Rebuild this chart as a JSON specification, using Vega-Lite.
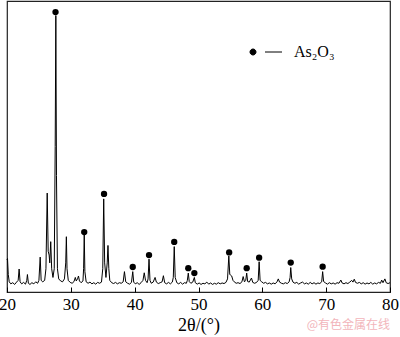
{
  "$schema": "https://vega.github.io/schema/vega-lite/v6.json",
  "width": 383,
  "height": 291,
  "autosize": {"type": "none"},
  "padding": {"left": 7, "top": 1, "right": 10, "bottom": 45},
  "background": "white",
  "title": {
    "text": "@有色金属在线",
    "orient": "bottom",
    "anchor": "end",
    "frame": "group",
    "offset": -14,
    "font": "Noto Sans CJK SC",
    "fontSize": 12,
    "fontWeight": "normal",
    "color": "#f2b5bb"
  },
  "datasets": {
    "pattern": [
      {"t": 20.0, "i": 11}, {"t": 20.08, "i": 11.5}, {"t": 20.2, "i": 6}, {"t": 20.35, "i": 3.5}, {"t": 20.6, "i": 2.8},
      {"t": 20.9, "i": 3.2}, {"t": 21.2, "i": 2.6}, {"t": 21.5, "i": 3.4}, {"t": 21.75, "i": 4}, {"t": 21.9, "i": 7.9},
      {"t": 22.05, "i": 3.5}, {"t": 22.3, "i": 2.8}, {"t": 22.6, "i": 3.3}, {"t": 22.9, "i": 2.7}, {"t": 23.1, "i": 4},
      {"t": 23.2, "i": 6}, {"t": 23.35, "i": 3}, {"t": 23.6, "i": 2.6}, {"t": 23.9, "i": 3.2}, {"t": 24.2, "i": 2.8},
      {"t": 24.5, "i": 3.5}, {"t": 24.8, "i": 3}, {"t": 25.0, "i": 4}, {"t": 25.2, "i": 12}, {"t": 25.35, "i": 4},
      {"t": 25.6, "i": 3.5}, {"t": 25.9, "i": 4}, {"t": 26.1, "i": 8}, {"t": 26.3, "i": 34}, {"t": 26.45, "i": 14},
      {"t": 26.6, "i": 12.7}, {"t": 26.7, "i": 10}, {"t": 26.85, "i": 17.3}, {"t": 27.0, "i": 8}, {"t": 27.2, "i": 5},
      {"t": 27.4, "i": 8}, {"t": 27.55, "i": 50}, {"t": 27.65, "i": 95}, {"t": 27.75, "i": 40}, {"t": 27.9, "i": 8},
      {"t": 28.1, "i": 4.5}, {"t": 28.4, "i": 3.8}, {"t": 28.7, "i": 3.5}, {"t": 29.0, "i": 4.5}, {"t": 29.2, "i": 10},
      {"t": 29.3, "i": 19}, {"t": 29.4, "i": 8}, {"t": 29.6, "i": 4}, {"t": 29.9, "i": 3.3}, {"t": 30.2, "i": 3},
      {"t": 30.5, "i": 3.6}, {"t": 30.7, "i": 5}, {"t": 30.85, "i": 3.8}, {"t": 31.05, "i": 4.5}, {"t": 31.2, "i": 5.5},
      {"t": 31.35, "i": 3.8}, {"t": 31.6, "i": 3.2}, {"t": 31.9, "i": 3.8}, {"t": 32.0, "i": 8}, {"t": 32.1, "i": 19.6},
      {"t": 32.2, "i": 7}, {"t": 32.4, "i": 3.5}, {"t": 32.7, "i": 3.0}, {"t": 33.0, "i": 3.4}, {"t": 33.3, "i": 2.8},
      {"t": 33.6, "i": 3.2}, {"t": 33.9, "i": 2.7}, {"t": 34.2, "i": 3.3}, {"t": 34.5, "i": 3.0}, {"t": 34.8, "i": 3.4},
      {"t": 35.0, "i": 8}, {"t": 35.15, "i": 32}, {"t": 35.3, "i": 10}, {"t": 35.5, "i": 5}, {"t": 35.7, "i": 10},
      {"t": 35.82, "i": 16}, {"t": 35.95, "i": 8}, {"t": 36.1, "i": 4}, {"t": 36.4, "i": 3.2}, {"t": 36.7, "i": 2.9},
      {"t": 37.0, "i": 3.3}, {"t": 37.3, "i": 2.8}, {"t": 37.6, "i": 3.2}, {"t": 37.9, "i": 3.0}, {"t": 38.2, "i": 3.5},
      {"t": 38.4, "i": 7}, {"t": 38.6, "i": 3.5}, {"t": 38.9, "i": 3.0}, {"t": 39.2, "i": 2.7}, {"t": 39.5, "i": 3.3},
      {"t": 39.7, "i": 7}, {"t": 39.85, "i": 3.4}, {"t": 40.1, "i": 2.8}, {"t": 40.4, "i": 3.2}, {"t": 40.7, "i": 2.6},
      {"t": 41.0, "i": 3.2}, {"t": 41.3, "i": 4}, {"t": 41.5, "i": 6.6}, {"t": 41.7, "i": 4}, {"t": 41.95, "i": 3.2},
      {"t": 42.1, "i": 4.5}, {"t": 42.25, "i": 11.3}, {"t": 42.4, "i": 4}, {"t": 42.6, "i": 3}, {"t": 42.9, "i": 3.4},
      {"t": 43.2, "i": 5}, {"t": 43.4, "i": 3.4}, {"t": 43.7, "i": 2.9}, {"t": 44.0, "i": 3.2}, {"t": 44.3, "i": 3.5},
      {"t": 44.5, "i": 5.6}, {"t": 44.7, "i": 3.2}, {"t": 45.0, "i": 2.8}, {"t": 45.3, "i": 3.3}, {"t": 45.6, "i": 2.8},
      {"t": 45.9, "i": 3.4}, {"t": 46.05, "i": 5}, {"t": 46.2, "i": 15.6}, {"t": 46.35, "i": 5}, {"t": 46.6, "i": 3.2},
      {"t": 46.9, "i": 2.8}, {"t": 47.2, "i": 3.3}, {"t": 47.5, "i": 2.7}, {"t": 47.8, "i": 3.2}, {"t": 48.1, "i": 3},
      {"t": 48.25, "i": 4}, {"t": 48.4, "i": 6.5}, {"t": 48.55, "i": 3.6}, {"t": 48.8, "i": 3}, {"t": 49.1, "i": 3.4},
      {"t": 49.35, "i": 5}, {"t": 49.5, "i": 3.2}, {"t": 49.8, "i": 2.7}, {"t": 50.1, "i": 3.1}, {"t": 50.4, "i": 2.6},
      {"t": 50.7, "i": 3.0}, {"t": 51.0, "i": 2.8}, {"t": 51.3, "i": 3.4}, {"t": 51.6, "i": 2.7}, {"t": 51.9, "i": 3.1},
      {"t": 52.2, "i": 2.6}, {"t": 52.5, "i": 3.0}, {"t": 52.8, "i": 2.7}, {"t": 53.1, "i": 3.2}, {"t": 53.4, "i": 2.8},
      {"t": 53.7, "i": 3.1}, {"t": 54.0, "i": 2.9}, {"t": 54.3, "i": 3.3}, {"t": 54.55, "i": 4.5}, {"t": 54.75, "i": 12.4},
      {"t": 54.9, "i": 6}, {"t": 55.05, "i": 5.8}, {"t": 55.2, "i": 5.5}, {"t": 55.4, "i": 4}, {"t": 55.6, "i": 3.5},
      {"t": 55.9, "i": 3}, {"t": 56.2, "i": 3.2}, {"t": 56.5, "i": 2.9}, {"t": 56.8, "i": 3.5}, {"t": 57.0, "i": 5.3},
      {"t": 57.2, "i": 3.5}, {"t": 57.4, "i": 4}, {"t": 57.55, "i": 6.5}, {"t": 57.7, "i": 3.6}, {"t": 57.95, "i": 3.4},
      {"t": 58.3, "i": 4.8}, {"t": 58.5, "i": 3.3}, {"t": 58.8, "i": 3.0}, {"t": 59.1, "i": 3.3}, {"t": 59.35, "i": 4},
      {"t": 59.5, "i": 10.4}, {"t": 59.65, "i": 4}, {"t": 59.9, "i": 3.5}, {"t": 60.2, "i": 3.0}, {"t": 60.5, "i": 3.3},
      {"t": 60.8, "i": 2.8}, {"t": 61.1, "i": 3.1}, {"t": 61.4, "i": 2.7}, {"t": 61.7, "i": 3.1}, {"t": 62.0, "i": 2.8},
      {"t": 62.3, "i": 3.5}, {"t": 62.5, "i": 4.5}, {"t": 62.7, "i": 3.4}, {"t": 63.0, "i": 3.0}, {"t": 63.3, "i": 2.8},
      {"t": 63.6, "i": 3.2}, {"t": 63.9, "i": 2.9}, {"t": 64.2, "i": 3.5}, {"t": 64.35, "i": 5}, {"t": 64.45, "i": 8.4},
      {"t": 64.6, "i": 4.5}, {"t": 64.8, "i": 3.4}, {"t": 65.1, "i": 3.0}, {"t": 65.4, "i": 3.3}, {"t": 65.7, "i": 2.7},
      {"t": 66.0, "i": 3.1}, {"t": 66.3, "i": 3.4}, {"t": 66.6, "i": 2.8}, {"t": 66.9, "i": 3.1}, {"t": 67.2, "i": 2.7},
      {"t": 67.5, "i": 3.3}, {"t": 67.8, "i": 2.8}, {"t": 68.1, "i": 3.2}, {"t": 68.4, "i": 2.7}, {"t": 68.7, "i": 3.1},
      {"t": 69.0, "i": 2.9}, {"t": 69.3, "i": 3.5}, {"t": 69.45, "i": 7}, {"t": 69.6, "i": 3.6}, {"t": 69.9, "i": 3.1},
      {"t": 70.2, "i": 2.7}, {"t": 70.5, "i": 3.2}, {"t": 70.8, "i": 2.8}, {"t": 71.1, "i": 3.1}, {"t": 71.4, "i": 2.7},
      {"t": 71.7, "i": 3.2}, {"t": 72.0, "i": 3.0}, {"t": 72.3, "i": 4.1}, {"t": 72.5, "i": 3.1}, {"t": 72.8, "i": 2.8},
      {"t": 73.1, "i": 3.2}, {"t": 73.4, "i": 2.9}, {"t": 73.7, "i": 3.4}, {"t": 74.0, "i": 4}, {"t": 74.2, "i": 3.4},
      {"t": 74.4, "i": 4.4}, {"t": 74.6, "i": 3.3}, {"t": 74.9, "i": 3.0}, {"t": 75.2, "i": 3.3}, {"t": 75.5, "i": 2.8},
      {"t": 75.8, "i": 3.2}, {"t": 76.1, "i": 2.7}, {"t": 76.4, "i": 3.1}, {"t": 76.7, "i": 2.8}, {"t": 77.0, "i": 3.3},
      {"t": 77.3, "i": 2.7}, {"t": 77.6, "i": 3.1}, {"t": 77.9, "i": 2.8}, {"t": 78.2, "i": 3.3}, {"t": 78.5, "i": 3.0},
      {"t": 78.7, "i": 4.1}, {"t": 78.9, "i": 3.2}, {"t": 79.2, "i": 4.5}, {"t": 79.4, "i": 3.2}, {"t": 79.7, "i": 2.9},
      {"t": 80.0, "i": 3.2}
    ],
    "markers": [
      {"t": 27.6, "i": 96.2, "phase": "As₂O₃"},
      {"t": 32.1, "i": 20.6, "phase": "As₂O₃"},
      {"t": 35.2, "i": 33.7, "phase": "As₂O₃"},
      {"t": 39.7, "i": 8.6, "phase": "As₂O₃"},
      {"t": 42.25, "i": 12.7, "phase": "As₂O₃"},
      {"t": 46.2, "i": 17.2, "phase": "As₂O₃"},
      {"t": 48.4, "i": 8.2, "phase": "As₂O₃"},
      {"t": 49.35, "i": 6.5, "phase": "As₂O₃"},
      {"t": 54.8, "i": 13.6, "phase": "As₂O₃"},
      {"t": 57.55, "i": 8.2, "phase": "As₂O₃"},
      {"t": 59.5, "i": 11.8, "phase": "As₂O₃"},
      {"t": 64.45, "i": 10.1, "phase": "As₂O₃"},
      {"t": 69.45, "i": 8.7, "phase": "As₂O₃"}
    ]
  },
  "layer": [
    {
      "data": {"name": "pattern"},
      "mark": {"type": "line", "color": "black", "strokeWidth": 1, "interpolate": "linear"},
      "encoding": {
        "x": {
          "field": "t", "type": "quantitative",
          "scale": {"domain": [20, 80], "nice": false, "zero": false},
          "axis": {
            "title": "2θ/(°)",
            "titleFont": "Liberation Serif",
            "titleFontSize": 18,
            "values": [20, 30, 40, 50, 60, 70, 80],
            "tickSize": -5,
            "labelPadding": 9,
            "grid": false,
            "domain": false,
            "labelFlush": false,
            "titlePadding": 4
          }
        },
        "y": {
          "field": "i", "type": "quantitative",
          "scale": {"domain": [0, 100], "nice": false},
          "axis": null
        }
      }
    },
    {
      "data": {"name": "markers"},
      "mark": {"type": "point", "filled": true, "size": 40, "opacity": 1},
      "encoding": {
        "x": {"field": "t", "type": "quantitative"},
        "y": {"field": "i", "type": "quantitative"},
        "color": {
          "field": "phase", "type": "nominal",
          "scale": {"range": ["black"]},
          "legend": {
            "title": null,
            "orient": "none",
            "legendX": 251,
            "legendY": 43,
            "padding": 0,
            "symbolType": "M-3.2,0 A0.6,0.6 0 1,1 -2.0,0 A0.6,0.6 0 1,1 -3.2,0 Z M-0.2,0 L3.2,0",
            "symbolSize": 100,
            "symbolFillColor": "black",
            "symbolStrokeColor": "black",
            "symbolStrokeWidth": 1,
            "labelOffset": 20,
            "labelFont": "Liberation Serif",
            "labelFontSize": 16,
            "labelColor": "black"
          }
        }
      }
    }
  ],
  "config": {
    "view": {"stroke": "#222", "strokeWidth": 1.2},
    "axis": {
      "labelFont": "Liberation Serif",
      "labelFontSize": 17,
      "labelColor": "black",
      "titleFont": "Liberation Serif",
      "titleFontSize": 18,
      "titleFontWeight": "normal",
      "titleColor": "black",
      "tickColor": "black",
      "tickWidth": 1
    }
  }
}
